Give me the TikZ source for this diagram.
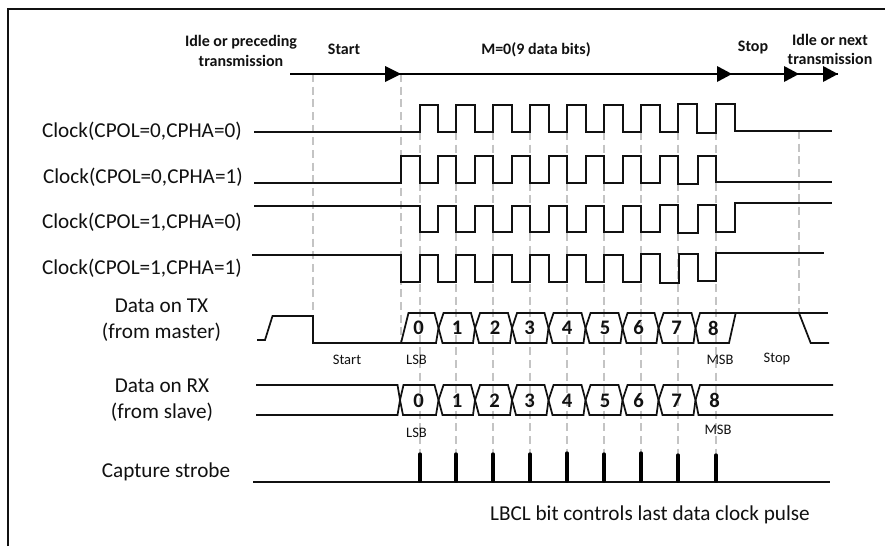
\documentclass[tikz,border=0pt]{standalone}
\usepackage{fontspec}
\setmainfont{Carlito}
\usetikzlibrary{arrows.meta}
\definecolor{sig}{HTML}{111111}
\definecolor{guide}{HTML}{C4C4C4}
\tikzset{
  x=0.75pt,y=-0.75pt,
  wave/.style={draw=sig,line width=1.5pt,line join=miter,line cap=butt},
  thin wave/.style={draw=sig,line width=1.3pt,line join=miter},
  guideline/.style={draw=guide,line width=1pt,dash pattern=on 6pt off 3.5pt},
  frameline/.style={draw=sig,line width=1.5pt},
  timeline/.style={draw=black,line width=1.5pt},
  head/.style={fill=black,draw=none},
  strobe/.style={draw=black,line width=2.5pt,line cap=round},
  siglabel/.style={font=\fontsize{15.9pt}{19.3pt}\selectfont,text=sig,align=center,inner sep=0pt},
  small/.style={font=\fontsize{10.9pt}{13pt}\selectfont,text=sig,inner sep=0pt},
  phase/.style={font=\bfseries\fontsize{12pt}{14.4pt}\selectfont,text=sig,align=center,inner sep=0pt},
  bit/.style={font=\bfseries\fontsize{15.5pt}{17pt}\selectfont,text=sig,inner sep=0pt},
}
\begin{document}
\begin{tikzpicture}
\useasboundingbox (0,0) rectangle (885,546);
\fill[white] (0,0) rectangle (885,546);
% frame
\draw[frameline] (8,546) -- (8,9) -- (885,9);
% guides
\draw[guideline] (313,74) -- (313,313);
\draw[guideline] (401,74) -- (401,343);
\foreach \x in {420,456,493,530,567,604,641,678,716}
  \draw[guideline] (\x,132) -- (\x,455);
\draw[guideline] (799,131) -- (799,313);
% timeline
\coordinate (tl0) at (290,74);
\coordinate (tl1) at (401,74);
\coordinate (tl2) at (732,74);
\coordinate (tl3) at (799,74);
\coordinate (tl4) at (838,74);
\draw[timeline] (tl0) -- (tl4);
\foreach \t/\b in {tl1/16,tl2/15,tl3/15,tl4/15}
  \fill[head] (\t) -- ++(-\b,-8) -- ++(0,16) -- cycle;
% clocks
\draw[wave] (254,132) -- (420,132) -- (420,105) -- (438,105) -- (438,132)
  -- (456,132) -- (456,105) -- (475,105) -- (475,132)
  -- (493,132) -- (493,105) -- (512,105) -- (512,132)
  -- (530,132) -- (530,105) -- (549,105) -- (549,132)
  -- (567,132) -- (567,105) -- (586,105) -- (586,132)
  -- (604,132) -- (604,105) -- (623,105) -- (623,132)
  -- (641,132) -- (641,105) -- (660,105) -- (660,132)
  -- (678,132) -- (678,104) -- (697,104) -- (697,133)
  -- (716,133) -- (716,104) -- (735,104) -- (735,131) -- (832,131);
\draw[wave] (254,183) -- (401,183) -- (401,156) -- (420,156) -- (420,183)
  -- (438,183) -- (438,156) -- (456,156) -- (456,183)
  -- (475,183) -- (475,156) -- (493,156) -- (493,183)
  -- (512,183) -- (512,156) -- (530,156) -- (530,183)
  -- (549,183) -- (549,156) -- (567,156) -- (567,183)
  -- (586,183) -- (586,156) -- (604,156) -- (604,183)
  -- (623,183) -- (623,156) -- (641,156) -- (641,183)
  -- (660,183) -- (660,156) -- (678,156) -- (678,184)
  -- (698,184) -- (698,156) -- (716,156) -- (716,182) -- (832,182);
\draw[wave] (254,206) -- (420,206) -- (420,232) -- (438,232) -- (438,206)
  -- (456,206) -- (456,232) -- (475,232) -- (475,206)
  -- (493,206) -- (493,232) -- (512,232) -- (512,206)
  -- (530,206) -- (530,232) -- (549,232) -- (549,206)
  -- (567,206) -- (567,232) -- (586,232) -- (586,206)
  -- (604,206) -- (604,232) -- (623,232) -- (623,206)
  -- (641,206) -- (641,232) -- (660,232) -- (660,205)
  -- (678,205) -- (678,233) -- (698,233) -- (698,205)
  -- (716,205) -- (716,232) -- (735,232) -- (735,203) -- (832,203);
\draw[wave] (252,255) -- (401,255) -- (401,282) -- (420,282) -- (420,255)
  -- (438,255) -- (438,282) -- (456,282) -- (456,255)
  -- (475,255) -- (475,282) -- (493,282) -- (493,255)
  -- (512,255) -- (512,282) -- (530,282) -- (530,255)
  -- (549,255) -- (549,282) -- (567,282) -- (567,255)
  -- (586,255) -- (586,282) -- (604,282) -- (604,255)
  -- (623,255) -- (623,282) -- (641,282) -- (641,254)
  -- (660,254) -- (660,283) -- (679,283) -- (679,254)
  -- (698,254) -- (698,281) -- (716,281) -- (716,253) -- (824,253);
% data TX
\draw[thin wave] (257,340) -- (265,340) -- (272.5,316) -- (313,316) -- (313,343) -- (401,343)
  -- (408.5,313) -- (434.5,313) -- (438.5,328) -- (436,343) -- (401,343);
\foreach \l/\r in {438.5/475,475/512,512/548.5,548.5/585.5,585.5/622.5,622.5/658.5,658.5/695.5}
  \draw[thin wave] (\l,328) -- (\l+5,313) -- (\r-4,313) -- (\r,328) -- (\r-2,343) -- (\l+4,343) -- cycle;
\draw[thin wave] (695.5,328) -- (700,313) -- (735.7,313) -- (729,343) -- (698.5,343) -- cycle;
\draw[thin wave] (735.7,313) -- (828,313);
\draw[thin wave] (799,313) -- (810.7,343) -- (829,343);
% data RX
\draw[thin wave] (256,385) -- (397.5,385) -- (400,400) -- (397.5,415) -- (256,415);
\draw[thin wave] (400,400) -- (403.5,385) -- (434.5,385) -- (438.5,400) -- (436,415) -- (403,415) -- cycle;
\foreach \l/\r in {438.5/475,475/512,512/548.5,548.5/585.5,585.5/622.5,622.5/658.5,658.5/695.5}
  \draw[thin wave] (\l,400) -- (\l+5,385) -- (\r-4,385) -- (\r,400) -- (\r-2,415) -- (\l+4,415) -- cycle;
\draw[thin wave] (695.5,400) -- (700,385) -- (833,385);
\draw[thin wave] (695.5,400) -- (698.5,415) -- (833,415);
% strobe
\draw[wave] (253,482) -- (830,482);
\foreach \x/\t in {420/454,456/454,493/454,530/454,567/453,604/454,641/453,678/455,716/455}
  \draw[strobe] (\x,\t) -- (\x,481);
% labels
\node[phase] (lidle) at (241,51) {Idle or preceding\\transmission};
\node[phase] (lstart) at (344,49.5) {Start};
\node[phase] (lm) at (536,49.5) {M=0(9 data bits)};
\node[phase] (lstop) at (753,47.5) {Stop};
\node[phase] (lnext) at (830,49.5) {Idle or next\\transmission};
\node[siglabel,anchor=east] (c1) at (242,131) {Clock(CPOL=0,CPHA=0)};
\node[siglabel,anchor=east] (c2) at (243,177) {Clock(CPOL=0,CPHA=1)};
\node[siglabel,anchor=east] (c3) at (242,222.5) {Clock(CPOL=1,CPHA=0)};
\node[siglabel,anchor=east] (c4) at (242,268) {Clock(CPOL=1,CPHA=1)};
\node[siglabel] (tx) at (161.5,320.5) {Data on TX\\(from master)};
\node[siglabel] (rx) at (162,400.5) {Data on RX\\(from slave)};
\node[siglabel] (cs) at (166,472) {Capture strobe};
\node[siglabel] (lbcl) at (650,515) {LBCL bit controls last data clock pulse};
\node[small] (s1) at (347,360) {Start};
\node[small] (s2) at (416.5,360) {LSB};
\node[small] (s3) at (720,360) {MSB};
\node[small] (s4) at (777,358.5) {Stop};
\node[small] (s5) at (416.5,433) {LSB};
\node[small] (s6) at (718,429.5) {MSB};
\foreach \n/\x in {0/418.5,1/457,2/495,3/529.5,4/567,5/605,6/638.5,7/676.5,8/713.3}
  \node[bit] (tx\n) at (\x,328) {\n};
\foreach \n/\x in {0/418.5,1/457,2/494.5,3/529.5,4/567,5/605,6/638.5,7/676.5,8/714.5}
  \node[bit] (rx\n) at (\x,400.5) {\n};
\end{tikzpicture}
\end{document}
